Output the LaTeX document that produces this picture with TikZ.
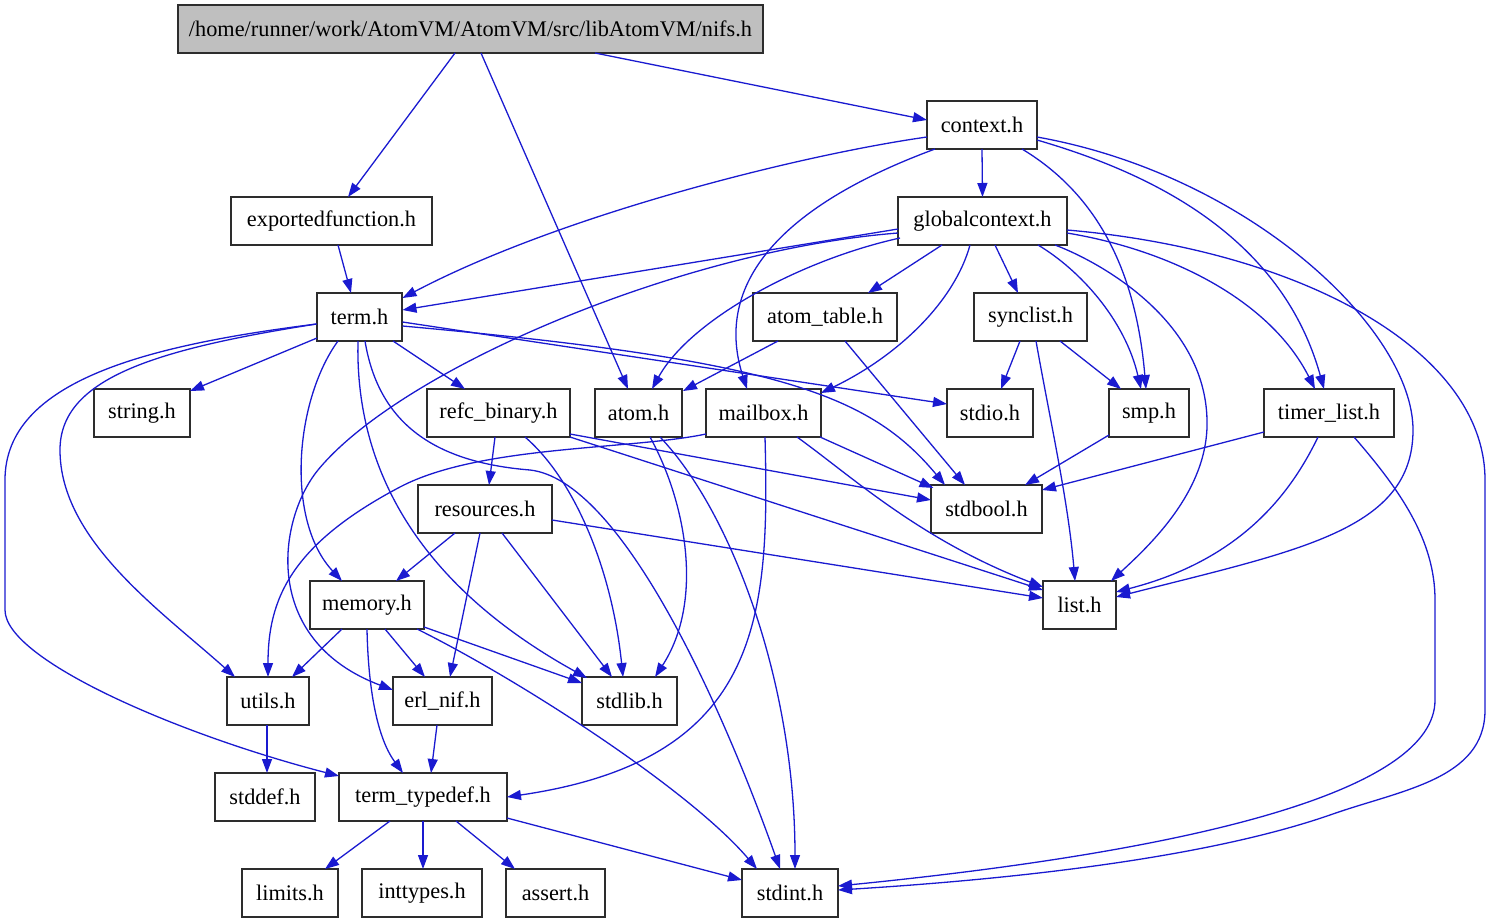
\documentclass[tikz,border=0pt]{standalone}
\usepackage{fontspec}
\setmainfont{Liberation Serif}
\usetikzlibrary{arrows.meta,calc}
\definecolor{edgeblue}{RGB}{26,26,208}
\definecolor{boxline}{RGB}{45,45,45}
\definecolor{rootfill}{RGB}{191,191,191}
\begin{document}
\begin{tikzpicture}[x=1pt,y=-1pt,
  hdr/.style={draw=boxline, line width=1.3pt, minimum height=48pt, inner sep=0pt, font=\fontsize{22.3}{26}\selectfont, fill=white},
  dep/.style={draw=edgeblue, line width=1.3pt, -{Triangle[length=14pt,width=10pt]}}]
\useasboundingbox (0,0) rectangle (1488,923);
% nodes
\node[hdr, fill=rootfill, minimum width=585pt] (nifs) at (470.5,29) {/home/runner/work/AtomVM/AtomVM/src/libAtomVM/nifs.h};
\node[hdr, minimum width=110pt] (context) at (982,125) {context.h};
\node[hdr, minimum width=201pt] (expf) at (331.5,221) {exportedfunction.h};
\node[hdr, minimum width=169pt] (gc) at (982.5,221) {globalcontext.h};
\node[hdr, minimum width=85pt] (term) at (359.5,317) {term.h};
\node[hdr, minimum width=144pt] (atomtable) at (825,317) {atom\_table.h};
\node[hdr, minimum width=113pt] (synclist) at (1030.5,317) {synclist.h};
\node[hdr, minimum width=96pt] (string) at (142,413) {string.h};
\node[hdr, minimum width=143pt] (refc) at (498.5,413) {refc\_binary.h};
\node[hdr, minimum width=87pt] (atom) at (638.5,413) {atom.h};
\node[hdr, minimum width=115pt] (mailbox) at (763.5,413) {mailbox.h};
\node[hdr, minimum width=86pt] (stdio) at (990,413) {stdio.h};
\node[hdr, minimum width=80pt] (smp) at (1149,413) {smp.h};
\node[hdr, minimum width=130pt] (timerlist) at (1329,413) {timer\_list.h};
\node[hdr, minimum width=134pt] (resources) at (485,509) {resources.h};
\node[hdr, minimum width=111pt] (stdbool) at (986.5,509) {stdbool.h};
\node[hdr, minimum width=114pt] (memory) at (367,605) {memory.h};
\node[hdr, minimum width=73pt] (list) at (1079.5,605) {list.h};
\node[hdr, minimum width=82pt] (utils) at (268,701) {utils.h};
\node[hdr, minimum width=99pt] (erlnif) at (442.5,701) {erl\_nif.h};
\node[hdr, minimum width=95pt] (stdlib) at (629.5,701) {stdlib.h};
\node[hdr, minimum width=100pt] (stddef) at (265,797) {stddef.h};
\node[hdr, minimum width=168pt] (tt) at (423,797) {term\_typedef.h};
\node[hdr, minimum width=96pt] (limits) at (290,893) {limits.h};
\node[hdr, minimum width=120pt] (inttypes) at (422,893) {inttypes.h};
\node[hdr, minimum width=99pt] (assert) at (555.5,893) {assert.h};
\node[hdr, minimum width=96pt] (stdint) at (790,893) {stdint.h};
% edges from nifs.h
\draw[dep] ($(nifs.center)+(124.5,24)$) -- ($(context.center)+(-55,-5)$);
\draw[dep] ($(nifs.center)+(-15.5,24)$) -- ($(expf.center)+(16.5,-24)$);
\draw[dep] ($(nifs.center)+(10.5,24)$) -- ($(atom.center)+(-10.5,-24)$);
% edges from context.h
\draw[dep] ($(context.center)+(0,24)$) -- ($(gc.center)+(0,-24)$);
\draw[dep] ($(context.center)+(-55,12)$) .. controls (800,155) and (560,215) .. ($(term.center)+(43,-19)$);
\draw[dep] ($(context.center)+(-47,24)$) .. controls (770,210) and (715,290) .. ($(mailbox.center)+(-16.5,-24)$);
\draw[dep] ($(context.center)+(40,24)$) .. controls (1090,190) and (1135,260) .. ($(smp.center)+(-3,-24)$);
\draw[dep] ($(context.center)+(55,15)$) .. controls (1140,170) and (1280,230) .. ($(timerlist.center)+(-5,-24)$);
\draw[dep] ($(context.center)+(55,12)$) .. controls (1250,175) and (1413,330) .. (1413,430) .. controls (1413,530) and (1300,550) .. ($(list.center)+(36.5,-8)$);
% edges from globalcontext.h
\draw[dep] ($(gc.center)+(-84.5,8)$) -- ($(term.center)+(43,-7)$);
\draw[dep] ($(gc.center)+(-84.5,12)$) .. controls (680,250) and (400,370) .. (318,470) .. controls (278,519) and (260,640) .. ($(erlnif.center)+(-49.5,-11)$);
\draw[dep] ($(gc.center)+(-82.5,17)$) .. controls (800,260) and (690,320) .. ($(atom.center)+(13.5,-24)$);
\draw[dep] ($(gc.center)+(-40.5,24)$) -- ($(atomtable.center)+(43,-24)$);
\draw[dep] ($(gc.center)+(-12.5,24)$) .. controls (955,300) and (900,355) .. ($(mailbox.center)+(57.5,-20)$);
\draw[dep] ($(gc.center)+(12.5,24)$) -- ($(synclist.center)+(-12.5,-24)$);
\draw[dep] ($(gc.center)+(55.5,24)$) .. controls (1080,270) and (1125,320) .. ($(smp.center)+(-8,-24)$);
\draw[dep] ($(gc.center)+(72.5,24)$) .. controls (1100,262) and (1205,320) .. (1207,420) .. controls (1209,490) and (1150,545) .. ($(list.center)+(31.5,-24)$);
\draw[dep] ($(gc.center)+(84.5,12)$) .. controls (1170,250) and (1270,300) .. ($(timerlist.center)+(-14,-24)$);
\draw[dep] ($(gc.center)+(84.5,9)$) .. controls (1300,250) and (1485,350) .. (1485,480) -- (1485,710) .. controls (1485,780) and (1400,790) .. (1330,815) .. controls (1200,860) and (1000,880) .. ($(stdint.center)+(48,-3)$);
% edges from term.h
\draw[dep] ($(term.center)+(-42.5,21)$) -- ($(string.center)+(48,-22)$);
\draw[dep] ($(term.center)+(33.5,24)$) -- ($(refc.center)+(-33.5,-24)$);
\draw[dep] ($(term.center)+(-21.5,24)$) .. controls (295,400) and (285,520) .. ($(memory.center)+(-25,-24)$);
\draw[dep] ($(term.center)+(-1.5,24)$) .. controls (355,460) and (410,580) .. ($(stdlib.center)+(-42.5,-23)$);
\draw[dep] ($(term.center)+(5.5,24)$) .. controls (378,420) and (430,462) .. (530,470) .. controls (620,480) and (720,700) .. ($(stdint.center)+(-10,-24)$);
\draw[dep] ($(term.center)+(43,5)$) -- ($(stdio.center)+(-43,-9)$);
\draw[dep] ($(term.center)+(43,9)$) .. controls (780,360) and (870,395) .. ($(stdbool.center)+(-41.5,-24)$);
\draw[dep] ($(term.center)+(-43,7)$) .. controls (150,350) and (60,380) .. (60,450) .. controls (60,540) and (160,610) .. ($(utils.center)+(-33,-24)$);
\draw[dep] ($(term.center)+(-43,7)$) .. controls (150,345) and (5,380) .. (5,480) -- (5,610) .. controls (5,660) and (180,735) .. ($(tt.center)+(-84,-21)$);
% exportedfunction.h
\draw[dep] ($(expf.center)+(6.5,24)$) -- ($(term.center)+(-8.5,-24)$);
% atom_table.h
\draw[dep] ($(atomtable.center)+(-47,24)$) -- ($(atom.center)+(44.5,-22)$);
\draw[dep] ($(atomtable.center)+(20,24)$) -- ($(stdbool.center)+(-21.5,-24)$);
% synclist.h
\draw[dep] ($(synclist.center)+(-10.5,24)$) -- ($(stdio.center)+(11,-24)$);
\draw[dep] ($(synclist.center)+(29.5,24)$) -- ($(smp.center)+(-28,-24)$);
\draw[dep] ($(synclist.center)+(5.5,24)$) .. controls (1050,420) and (1068,500) .. ($(list.center)+(-4.5,-24)$);
% smp.h
\draw[dep] ($(smp.center)+(-40,22)$) -- ($(stdbool.center)+(38.5,-24)$);
% timer_list.h
\draw[dep] ($(timerlist.center)+(-65,19)$) -- ($(stdbool.center)+(55.5,-19)$);
\draw[dep] ($(timerlist.center)+(-11,24)$) .. controls (1290,495) and (1240,560) .. ($(list.center)+(36.5,-13)$);
\draw[dep] ($(timerlist.center)+(25,24)$) .. controls (1400,490) and (1435,540) .. (1435,600) -- (1435,700) .. controls (1435,790) and (1200,850) .. ($(stdint.center)+(48,-7)$);
% refc_binary.h
\draw[dep] ($(refc.center)+(-3.5,24)$) -- ($(resources.center)+(4,-24)$);
\draw[dep] ($(refc.center)+(26.5,24)$) .. controls (575,480) and (612,570) .. ($(stdlib.center)+(-6.5,-24)$);
\draw[dep] ($(refc.center)+(71.5,21)$) -- ($(stdbool.center)+(-55.5,-9)$);
\draw[dep] ($(refc.center)+(71.5,24)$) -- ($(list.center)+(-36.5,-15)$);
% atom.h
\draw[dep] ($(atom.center)+(11.5,24)$) .. controls (685,500) and (705,600) .. ($(stdlib.center)+(25.5,-24)$);
\draw[dep] ($(atom.center)+(21.5,24)$) .. controls (730,510) and (795,680) .. ($(stdint.center)+(5,-24)$);
% mailbox.h
\draw[dep] ($(mailbox.center)+(-57.5,21)$) .. controls (630,450) and (480,445) .. (400,487) .. controls (290,545) and (268,600) .. ($(utils.center)+(0,-24)$);
\draw[dep] ($(mailbox.center)+(1.5,24)$) .. controls (770,620) and (760,760) .. ($(tt.center)+(84,0)$);
\draw[dep] ($(mailbox.center)+(56.5,24)$) -- ($(stdbool.center)+(-53,-21)$);
\draw[dep] ($(mailbox.center)+(33.5,24)$) .. controls (850,475) and (920,540) .. ($(list.center)+(-36.5,-18)$);
% resources.h
\draw[dep] ($(resources.center)+(-30,24)$) -- ($(memory.center)+(29,-24)$);
\draw[dep] ($(resources.center)+(-5,24)$) -- ($(erlnif.center)+(7.5,-24)$);
\draw[dep] ($(resources.center)+(17,24)$) -- ($(stdlib.center)+(-17.5,-24)$);
\draw[dep] ($(resources.center)+(67,11)$) -- ($(list.center)+(-36.5,-7)$);
% memory.h
\draw[dep] ($(memory.center)+(-25,24)$) -- ($(utils.center)+(24,-24)$);
\draw[dep] ($(memory.center)+(18,24)$) -- ($(erlnif.center)+(-17.5,-24)$);
\draw[dep] ($(memory.center)+(57,22)$) -- ($(stdlib.center)+(-47.5,-18)$);
\draw[dep] ($(memory.center)+(0,24)$) .. controls (368,680) and (375,735) .. ($(tt.center)+(-20,-24)$);
\draw[dep] ($(memory.center)+(50,24)$) .. controls (520,680) and (690,790) .. ($(stdint.center)+(-33,-24)$);
% utils.h, erl_nif.h
\draw[dep] ($(utils.center)+(-1,24)$) -- ($(stddef.center)+(2,-24)$);
\draw[dep] ($(erlnif.center)+(-5.5,24)$) -- ($(tt.center)+(8,-24)$);
% term_typedef.h
\draw[dep] ($(tt.center)+(-33,24)$) -- ($(limits.center)+(35,-24)$);
\draw[dep] ($(tt.center)+(0,24)$) -- ($(inttypes.center)+(1,-24)$);
\draw[dep] ($(tt.center)+(33,24)$) -- ($(assert.center)+(-40.5,-24)$);
\draw[dep] ($(tt.center)+(84,21)$) -- ($(stdint.center)+(-48,-13)$);
\end{tikzpicture}
\end{document}
